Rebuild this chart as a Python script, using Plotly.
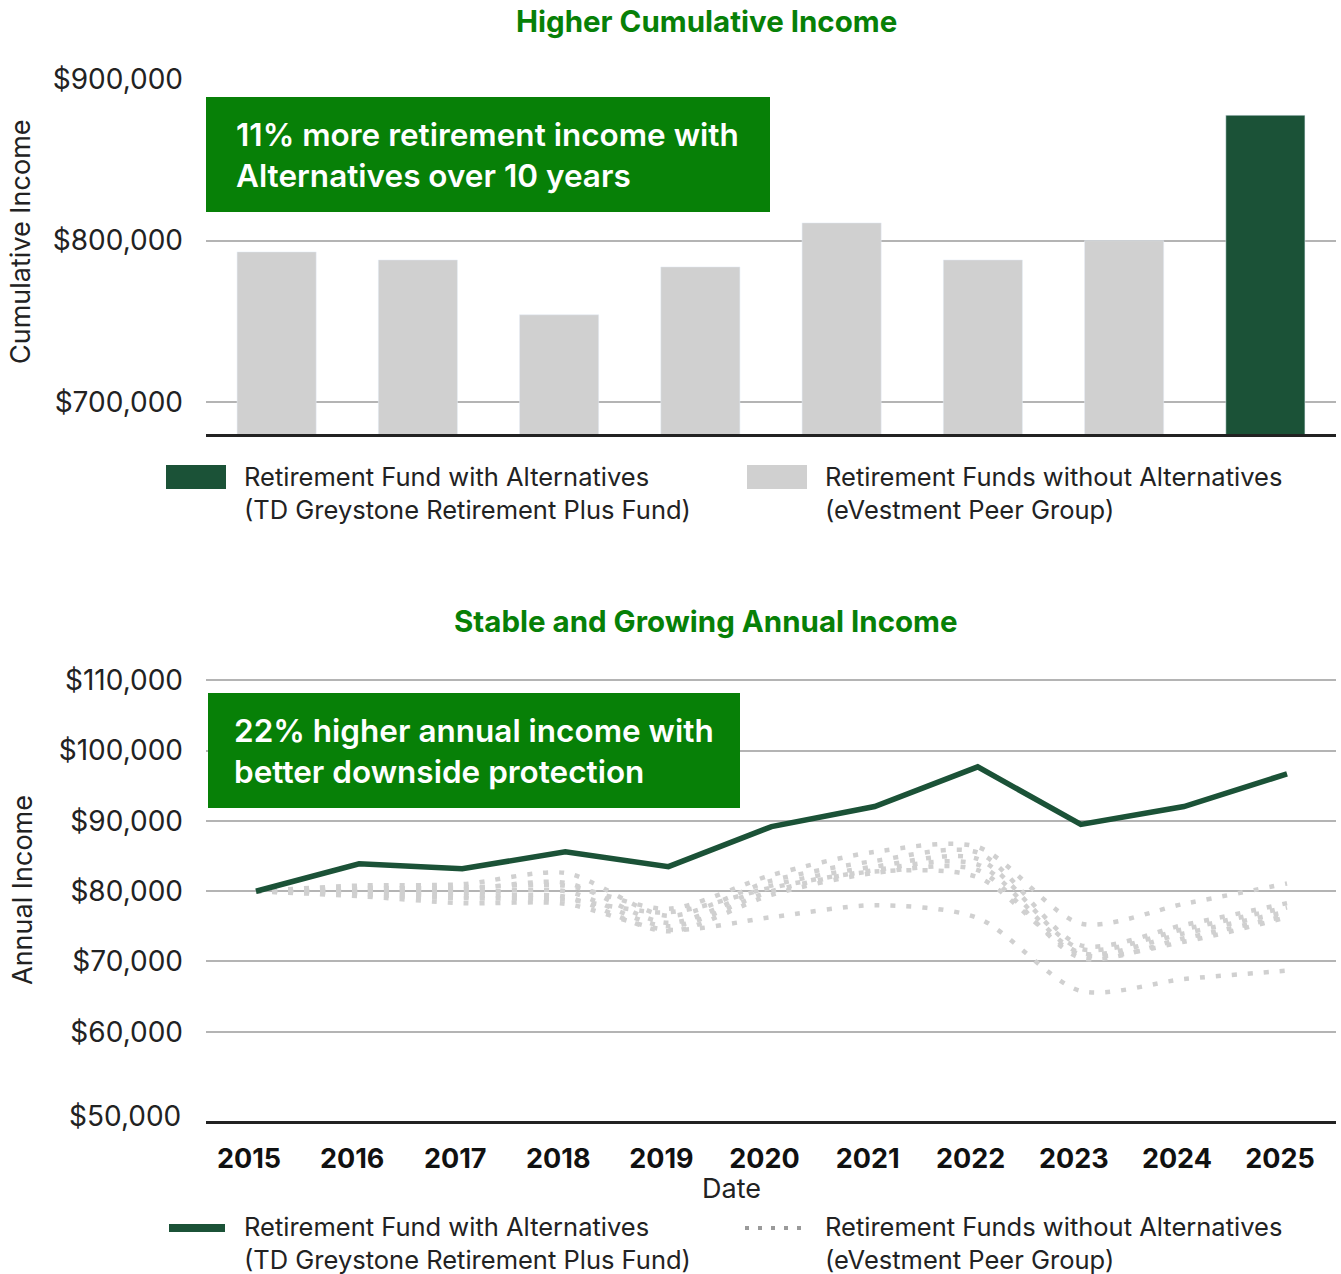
import plotly.graph_objects as go

# cumulative income over 10 years (7 peers + TD fund)
bar_names = ["Peer 1", "Peer 2", "Peer 3", "Peer 4", "Peer 5", "Peer 6", "Peer 7",
             "TD Greystone Retirement Plus Fund"]
bar_values = [793000, 788000, 754000, 783700, 811000, 788000, 800000, 877800]

# annual income
years = [2015, 2016, 2017, 2018, 2019, 2020, 2021, 2022, 2023, 2024, 2025]
fund_income = [80000, 83900, 83200, 85600, 83500, 89200, 92050, 97700, 89500, 92050, 96700]
peer_a = [80000, 80300, 80500, 80800, 77500, 82300, 85600, 86300, 75400, 78200, 81100]
peer_b = [80000, 80800, 81000, 82600, 76500, 81500, 84300, 85500, 72300, 75200, 78300]
peer_c = [80000, 80500, 80300, 81200, 75500, 80800, 83500, 84600, 71800, 74600, 77700]
peer_d = [80000, 80000, 79800, 80000, 75000, 80000, 83000, 83800, 71200, 74000, 77100]
peer_e = [80000, 79700, 79300, 79200, 74300, 79500, 82600, 83000, 70500, 73300, 76500]
peer_f = [80000, 79500, 79000, 78800, 77000, 80500, 82800, 82000, 71000, 72800, 76300]
peer_g = [80000, 79300, 78300, 78200, 74500, 76300, 78000, 76200, 65800, 67500, 68700]
peers = [peer_a, peer_b, peer_c, peer_d, peer_e, peer_f, peer_g]

W, H = 1341, 1274
GREEN = "#078007"
DARK = "#1b5237"
GREY = "#d0d0d0"
FONT = "Inter, Roboto, sans-serif"


def px(x):
    return x / W


def py(y):
    return 1 - y / H


fig = go.Figure()

bar_colors = [GREY] * 7 + [DARK]
fig.add_trace(go.Bar(x=bar_names, y=bar_values, marker_color=bar_colors,
                     xaxis="x", yaxis="y", showlegend=False))

for p in peers:
    fig.add_trace(go.Scatter(
        x=years, y=p, mode="lines", xaxis="x2", yaxis="y2", showlegend=False,
        line=dict(color=GREY, width=4.5, dash="5px,11px", shape="spline", smoothing=0.8),
    ))
fig.add_trace(go.Scatter(
    x=years, y=fund_income, mode="lines", xaxis="x2", yaxis="y2", showlegend=False,
    line=dict(color=DARK, width=5.5),
))

grid = dict(showgrid=True, gridcolor="#b4b4b4", gridwidth=1.5, zeroline=False, automargin=False)
tickfont = dict(family=FONT, size=28, color="#222")

fig.update_layout(
    width=W, height=H,
    margin=dict(l=0, r=0, t=0, b=0),
    plot_bgcolor="white", paper_bgcolor="white",
    font=dict(family=FONT, color="#222"),
    bargap=0.44,
    xaxis=dict(domain=[px(206), px(1336)], anchor="y", showticklabels=False, automargin=False,
               showline=True, linecolor="#222", linewidth=3, range=[-0.5, 7.5]),
    yaxis=dict(domain=[py(434), py(79)], anchor="x", range=[680000, 900300],
               tickvals=[700000, 800000, 900000], tickformat="$,.0f",
               tickfont=tickfont, ticklabelstandoff=22, **grid),
    xaxis2=dict(domain=[px(206), px(1336)], anchor="y2", range=[2014.515, 2025.475],
                tickvals=years, tickfont=dict(family=FONT, size=27, color="#111", weight="bold"),
                ticklabelstandoff=12, ticklabelshift=-7, automargin=False,
                showline=True, linecolor="#222", linewidth=3, showgrid=False, zeroline=False),
    yaxis2=dict(domain=[py(1121), py(679)], anchor="x2", range=[47300, 110200],
                tickvals=[60000, 70000, 80000, 90000, 100000, 110000], tickformat="$,.0f",
                tickfont=tickfont, ticklabelstandoff=22, **grid),
)

shapes = []
ann = []


def text(t, x, y, size, color="#222", xanchor="center", **kw):
    ann.append(dict(text=t, x=px(x), y=py(y), xanchor=xanchor, yanchor="middle",
                    xref="paper", yref="paper", showarrow=False,
                    font=dict(family=FONT, size=size, color=color), **kw))


# titles
text("<b>Higher Cumulative Income</b>", 706, 21, 29.5, GREEN)
text("<b>Stable and Growing Annual Income</b>", 706, 621, 29.5, GREEN)

# axis titles
text("Cumulative Income", 20, 242, 27, textangle=-90)
text("Annual Income", 22, 890, 27, textangle=-90)
text("Date", 731, 1188, 27)
text("$50,000", 183, 1116, 28, xanchor="right")

# green callout boxes
callouts = [
    (206, 770, 97, 212, 234, "11% more retirement income with<br>Alternatives over 10 years"),
    (208, 740, 693, 808, 232, "22% higher annual income with<br>better downside protection"),
]
for x0, x1, y0, y1, tx, txt in callouts:
    shapes.append(dict(type="rect", xref="paper", yref="paper", x0=px(x0), x1=px(x1),
                       y0=py(y1), y1=py(y0), fillcolor=GREEN, line=dict(width=0), layer="above"))
    text(txt, tx, (y0 + y1) / 2, 31.5, "white", xanchor="left", align="left")
    ann[-1]["font"]["weight"] = 600

# legends
leg_text = [
    (242, "Retirement Fund with Alternatives<br>(TD Greystone Retirement Plus Fund)"),
    (823, "Retirement Funds without Alternatives<br>(eVestment Peer Group)"),
]
for ycen in (493, 1243):
    for tx, txt in leg_text:
        text(txt, tx, ycen, 25.5, xanchor="left", align="left")

shapes.append(dict(type="rect", xref="paper", yref="paper", x0=px(166), x1=px(226),
                   y0=py(489), y1=py(465), fillcolor=DARK, line=dict(width=0)))
shapes.append(dict(type="rect", xref="paper", yref="paper", x0=px(747), x1=px(807),
                   y0=py(489), y1=py(465), fillcolor=GREY, line=dict(width=0)))
shapes.append(dict(type="line", xref="paper", yref="paper", x0=px(169), x1=px(225),
                   y0=py(1228), y1=py(1228), line=dict(color=DARK, width=8)))
shapes.append(dict(type="line", xref="paper", yref="paper", x0=px(745), x1=px(810),
                   y0=py(1228), y1=py(1228), line=dict(color="#9a9a9a", width=4, dash="4px,9px")))

fig.update_layout(shapes=shapes, annotations=ann)

fig.write_html("out.html", config={"displayModeBar": False},
               post_script="document.body.style.margin='0px';")
